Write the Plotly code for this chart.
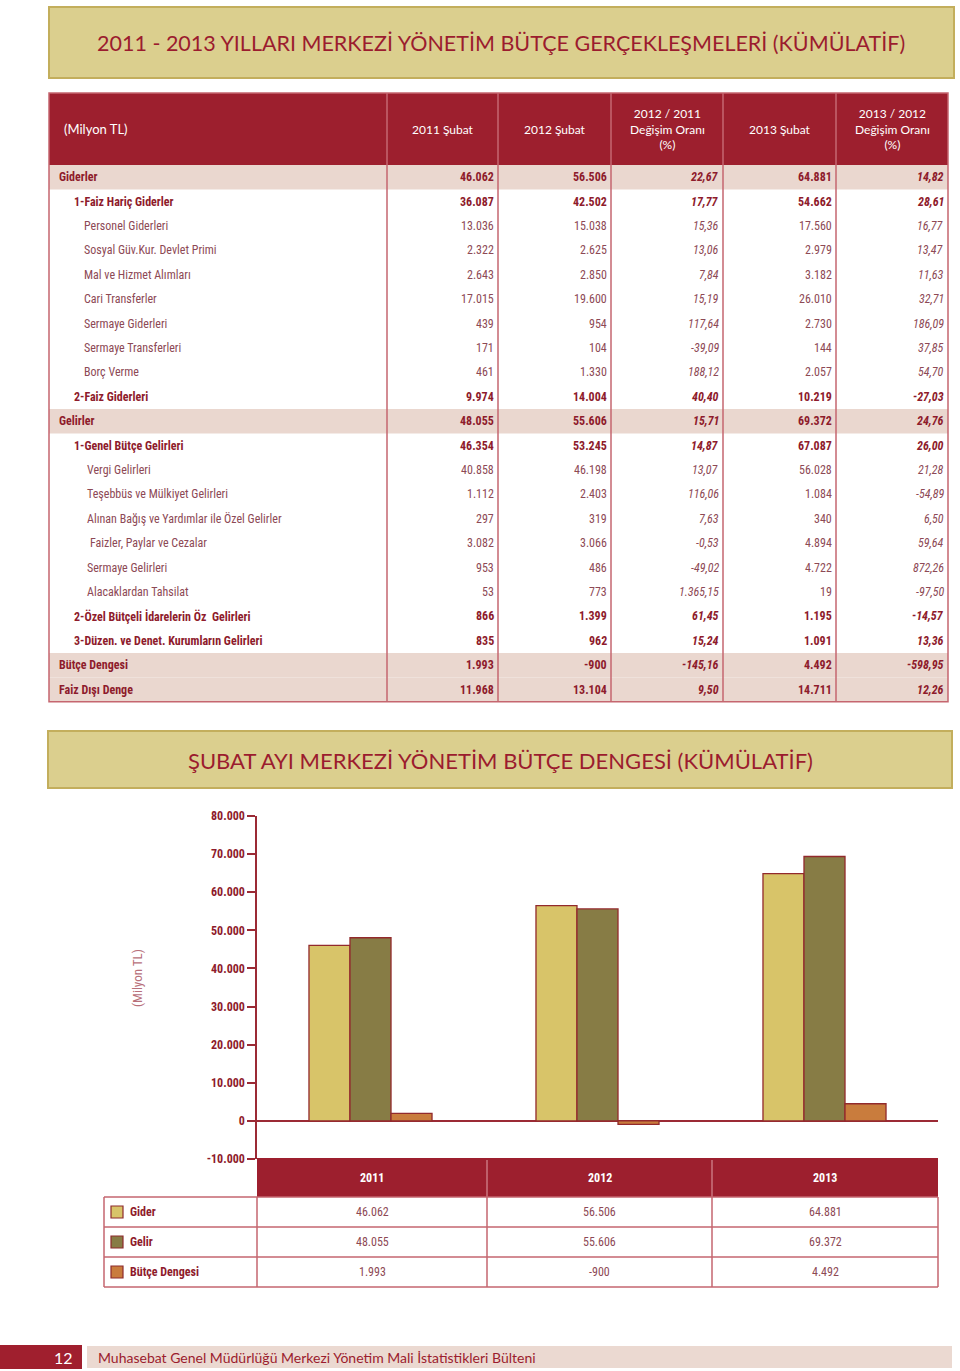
import plotly.graph_objects as go

# ---------------- DATA ----------------
row_labels = [
    "Giderler", "1-Faiz Hariç Giderler", "Personel Giderleri", "Sosyal Güv.Kur. Devlet Primi",
    "Mal ve Hizmet Alımları", "Cari Transferler", "Sermaye Giderleri", "Sermaye Transferleri",
    "Borç Verme", "2-Faiz Giderleri", "Gelirler", "1-Genel Bütçe Gelirleri", "Vergi Gelirleri",
    "Teşebbüs ve Mülkiyet Gelirleri", "Alınan Bağış ve Yardımlar ile Özel Gelirler",
    "Faizler, Paylar ve Cezalar", "Sermaye Gelirleri", "Alacaklardan Tahsilat",
    "2-Özel Bütçeli İdarelerin Öz  Gelirleri", "3-Düzen. ve Denet. Kurumların Gelirleri",
    "Bütçe Dengesi", "Faiz Dışı Denge",
]
row_levels = [0, 1, 2, 2, 2, 2, 2, 2, 2, 1, 0, 1, 3, 3, 3, 4, 3, 3, 1, 1, 0, 0]
val_2011 = [46062, 36087, 13036, 2322, 2643, 17015, 439, 171, 461, 9974, 48055, 46354, 40858,
            1112, 297, 3082, 953, 53, 866, 835, 1993, 11968]
val_2012 = [56506, 42502, 15038, 2625, 2850, 19600, 954, 104, 1330, 14004, 55606, 53245, 46198,
            2403, 319, 3066, 486, 773, 1399, 962, -900, 13104]
chg_12_11 = [22.67, 17.77, 15.36, 13.06, 7.84, 15.19, 117.64, -39.09, 188.12, 40.40, 15.71, 14.87,
             13.07, 116.06, 7.63, -0.53, -49.02, 1365.15, 61.45, 15.24, -145.16, 9.50]
val_2013 = [64881, 54662, 17560, 2979, 3182, 26010, 2730, 144, 2057, 10219, 69372, 67087, 56028,
            1084, 340, 4894, 4722, 19, 1195, 1091, 4492, 14711]
chg_13_12 = [14.82, 28.61, 16.77, 13.47, 11.63, 32.71, 186.09, 37.85, 54.70, -27.03, 24.76, 26.00,
             21.28, -54.89, 6.50, 59.64, 872.26, -97.50, -14.57, 13.36, -598.95, 12.26]
header_labels = ["(Milyon TL)", "2011 Şubat", "2012 Şubat", "2012 / 2011<br>Değişim Oranı<br>(%)",
                 "2013 Şubat", "2013 / 2012<br>Değişim Oranı<br>(%)"]

years = ["2011", "2012", "2013"]
series_names = ["Gider", "Gelir", "Bütçe Dengesi"]
gider = [46062, 56506, 64881]
gelir = [48055, 55606, 69372]
denge = [1993, -900, 4492]
y_ticks = [-10000, 0, 10000, 20000, 30000, 40000, 50000, 60000, 70000, 80000]

title_main = "2011 - 2013 YILLARI MERKEZİ YÖNETİM BÜTÇE GERÇEKLEŞMELERİ (KÜMÜLATİF)"
title_chart = "ŞUBAT AYI MERKEZİ YÖNETİM BÜTÇE DENGESİ (KÜMÜLATİF)"
footer_page = "12"
footer_text = "Muhasebat Genel Müdürlüğü Merkezi Yönetim Mali İstatistikleri Bülteni"


# ---------------- HELPERS ----------------
def fmt_int(v):
    s = f"{abs(v):,}".replace(",", ".")
    return ("-" if v < 0 else "") + s


def fmt_pct(v):
    s = f"{abs(v):,.2f}".replace(",", "X").replace(".", ",").replace("X", ".")
    return ("-" if v < 0 else "") + s


# ---------------- STYLE ----------------
W, H = 960, 1371
RED = "#9d1f2e"
DARK = "#8e1b2c"
MUTED = "#8d4955"
LINE = "#c5666f"
HILITE = "#ead7cf"
KHAKI = "#dbcf8e"
KHAKI_B = "#c3ae5c"
NARROW = "Roboto Condensed, DejaVu Sans Condensed, sans-serif"
HUMAN = "Lato, Open Sans, sans-serif"
BAR_COLORS = ["#d8c469", "#877c45", "#c97c3d"]
BODY = 12

shapes = []
annotations = []


def rect(x0, y0, x1, y1, fill=None, line=None, lw=0):
    shapes.append(dict(type="rect", xref="x", yref="y", x0=x0, y0=y0, x1=x1, y1=y1,
                       fillcolor=fill if fill else "rgba(0,0,0,0)",
                       line=dict(color=line if line else "rgba(0,0,0,0)", width=lw)))


def hline(x0, x1, y, color=LINE, lw=1.5):
    shapes.append(dict(type="line", xref="x", yref="y", x0=x0, x1=x1, y0=y, y1=y,
                       line=dict(color=color, width=lw)))


def vline(x, y0, y1, color=LINE, lw=1.5):
    shapes.append(dict(type="line", xref="x", yref="y", x0=x, x1=x, y0=y0, y1=y1,
                       line=dict(color=color, width=lw)))


def text(x, y, t, size=BODY, color=DARK, family=NARROW, anchor="left", angle=0):
    annotations.append(dict(xref="x", yref="y", x=x, y=y, text=t, showarrow=False,
                            xanchor=anchor, yanchor="middle", textangle=angle,
                            font=dict(size=size, color=color, family=family)))


# ---------------- TITLE BOX ----------------
rect(49, 7, 954, 78, KHAKI, KHAKI_B, 2)
text(501, 43, title_main, size=21.5, color="#9b1c2e", family=HUMAN, anchor="center")

# ---------------- MAIN TABLE ----------------
col_bounds = [49, 387, 498, 611, 723, 836, 948]
HEAD_T, HEAD_B = 93, 165
ROW_H = 24.4
n_rows = len(row_labels)
TABLE_B = HEAD_B + ROW_H * n_rows

rect(col_bounds[0], HEAD_T, col_bounds[-1], HEAD_B, RED)
for xb in col_bounds[1:-1]:
    vline(xb, HEAD_T, HEAD_B, color="#d98a92", lw=1)
text(62, (HEAD_T + HEAD_B) / 2, header_labels[0], size=13, color="white", family=HUMAN)
for j in range(1, 6):
    cx = (col_bounds[j] + col_bounds[j + 1]) / 2
    text(cx, (HEAD_T + HEAD_B) / 2, header_labels[j], size=12, color="white", family=HUMAN,
         anchor="center")

indent_x = {0: 57, 1: 72, 2: 82, 3: 85, 4: 88}
columns = [(val_2011, fmt_int, False), (val_2012, fmt_int, False), (chg_12_11, fmt_pct, True),
           (val_2013, fmt_int, False), (chg_13_12, fmt_pct, True)]
for i in range(n_rows):
    top = HEAD_B + i * ROW_H
    cy = top + ROW_H / 2
    lvl = row_levels[i]
    if lvl == 0:
        rect(col_bounds[0], top, col_bounds[-1], top + ROW_H, HILITE)
    bold = lvl <= 1
    color = DARK if bold else MUTED
    lab = row_labels[i].replace("  ", "\u00a0 ")
    text(indent_x[lvl], cy, f"<b>{lab}</b>" if bold else lab, color=color)
    for j, (vals, f, ital) in enumerate(columns):
        t = f(vals[i])
        if ital:
            t = f"<i>{t}</i>"
        if bold:
            t = f"<b>{t}</b>"
        text(col_bounds[j + 2] - 2.5, cy, t, color=color, anchor="right")

for xb in col_bounds[1:-1]:
    vline(xb, HEAD_B, TABLE_B)
rect(col_bounds[0], HEAD_T, col_bounds[-1], TABLE_B, None, LINE, 1.5)

# ---------------- CHART TITLE BOX ----------------
rect(48, 731, 952, 788, KHAKI, KHAKI_B, 2)
text(500, 760, title_chart, size=22, color="#9b1c2e", family=HUMAN, anchor="center")

# ---------------- BAR CHART ----------------
PX0, PX1 = 257, 938
PY_TOP, PY_BOT = 816, 1159

fig = go.Figure()
fig.add_trace(go.Scatter(x=[0], y=[0], mode="markers", marker=dict(opacity=0),
                         hoverinfo="skip", showlegend=False, xaxis="x", yaxis="y"))
for name, vals, c in zip(series_names, [gider, gelir, denge], BAR_COLORS):
    fig.add_trace(go.Bar(x=years, y=vals, name=name, marker=dict(color=c,
                         line=dict(color="#922a2c", width=1.3)),
                         xaxis="x2", yaxis="y2", showlegend=False))

text(137, 978, "(Milyon TL)", size=13, color="#b8707a", angle=-90, anchor="center")

# ---------------- DATA TABLE UNDER CHART ----------------
lt_bounds = [104, 257, 487, 712, 938]
LT_HEAD_T, LT_HEAD_B = 1158, 1197
LT_ROW_H = 30
rect(lt_bounds[1], LT_HEAD_T, lt_bounds[-1], LT_HEAD_B, RED)
for xb in lt_bounds[2:-1]:
    vline(xb, LT_HEAD_T + 2, LT_HEAD_B, color="#e0a0a6", lw=1)
for j, yr in enumerate(years):
    cx = (lt_bounds[j + 1] + lt_bounds[j + 2]) / 2
    text(cx, (LT_HEAD_T + LT_HEAD_B) / 2, f"<b>{yr}</b>", size=12, color="white", anchor="center")

series_vals = [gider, gelir, denge]
for r in range(3):
    top = LT_HEAD_B + r * LT_ROW_H
    cy = top + LT_ROW_H / 2
    rect(111, cy - 6, 123, cy + 6, BAR_COLORS[r], "#8e2a2c", 1.2)
    text(128, cy, f"<b>{series_names[r]}</b>", size=12, color=DARK)
    for j in range(3):
        cx = (lt_bounds[j + 1] + lt_bounds[j + 2]) / 2
        text(cx, cy, fmt_int(series_vals[r][j]), size=12, color=MUTED, anchor="center")
LT_B = LT_HEAD_B + 3 * LT_ROW_H
for r in range(4):
    hline(lt_bounds[0], lt_bounds[-1], LT_HEAD_B + r * LT_ROW_H)
for xb in lt_bounds:
    vline(xb, LT_HEAD_B, LT_B)

# ---------------- FOOTER ----------------
rect(0, 1345, 82, 1369, "#a01f2e")
text(75, 1357, footer_page, size=16, color="white", family=HUMAN, anchor="right")
rect(87, 1346, 952, 1368, "#ebd9d1")
text(96, 1357, footer_text, size=14, color="#9b1c2e", family=HUMAN)

# ---------------- LAYOUT ----------------
fig.update_layout(
    width=W, height=H, margin=dict(l=0, r=0, t=0, b=0, pad=0, autoexpand=False),
    paper_bgcolor="white", plot_bgcolor="rgba(0,0,0,0)",
    showlegend=False,
    barmode="group", bargap=0.458, bargroupgap=0,
    xaxis=dict(range=[0, W], domain=[0, 1], visible=False, fixedrange=True),
    yaxis=dict(range=[H, 0], domain=[0, 1], visible=False, fixedrange=True),
    xaxis2=dict(domain=[PX0 / W, PX1 / W], anchor="y2", type="category", range=[-0.5, 2.5],
                showticklabels=False, showgrid=False, zeroline=False, showline=False, ticks=""),
    yaxis2=dict(domain=[1 - PY_BOT / H, 1 - PY_TOP / H], anchor="x2", range=[-10000, 80000],
                showgrid=False, zeroline=True, zerolinecolor="#9b2a35", zerolinewidth=1.5,
                showline=True, linecolor="#9b2a35", linewidth=1.5,
                ticks="outside", ticklen=8, tickwidth=1.5, tickcolor="#9b2a35",
                tickvals=y_ticks, ticktext=[f"<b>{fmt_int(v)}</b>" for v in y_ticks],
                tickfont=dict(size=12, color=DARK, family=NARROW)),
    shapes=shapes, annotations=annotations,
)

fig.write_html("out.html", config={"displayModeBar": False},
               post_script="document.body.style.margin='0';document.body.style.overflow='hidden';")
